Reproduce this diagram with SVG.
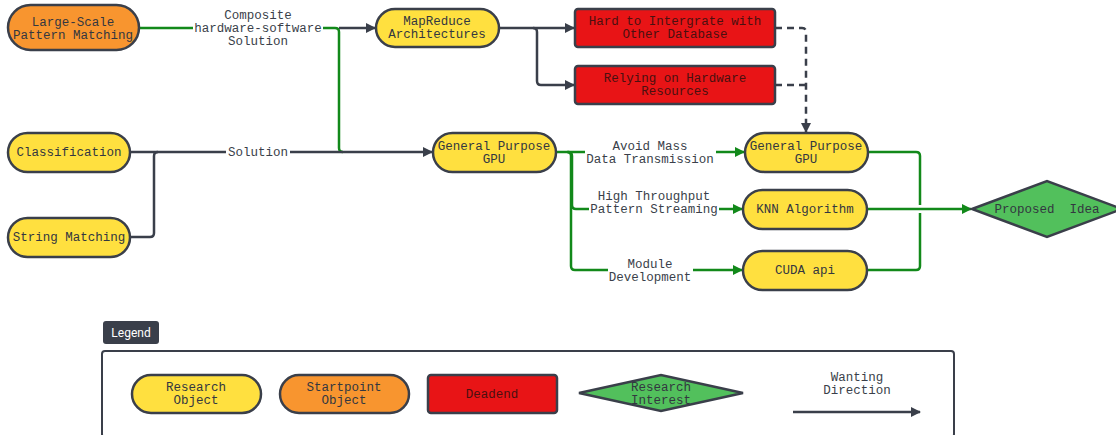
<svg xmlns="http://www.w3.org/2000/svg" width="1116" height="435" viewBox="0 0 1116 435">
  <style>
    text { font-family: "Liberation Mono", "DejaVu Sans Mono", monospace; font-size: 12.5px; fill: #333740; text-anchor: middle; }
    .obj { fill: #FFE03F; stroke: #3A3F4A; stroke-width: 2.5; }
    .start { fill: #F8952F; stroke: #3A3F4A; stroke-width: 2.5; }
    .dead { fill: #E81416; stroke: #3A3F4A; stroke-width: 2.5; }
    .dead-t { fill: #4A1010; }
    .interest { fill: #52C05C; stroke: #3A3F4A; stroke-width: 2.5; }
    .dk { fill: none; stroke: #3A3F4A; stroke-width: 2.5; }
    .gr { fill: none; stroke: #12891A; stroke-width: 2.5; }
    .dash { fill: none; stroke: #3A3F4A; stroke-width: 2.5; stroke-dasharray: 7 5; }
    .lbl { fill: #3A3F4A; }
  </style>
  <defs>
    <marker id="ad" viewBox="0 0 10 10" refX="9" refY="5" markerWidth="10" markerHeight="10" markerUnits="userSpaceOnUse" orient="auto">
      <path d="M0,0 L10,5 L0,10 z" fill="#3A3F4A"/>
    </marker>
    <marker id="ag" viewBox="0 0 10 10" refX="9" refY="5" markerWidth="10" markerHeight="10" markerUnits="userSpaceOnUse" orient="auto">
      <path d="M0,0 L10,5 L0,10 z" fill="#12891A"/>
    </marker>
  </defs>

  <!-- connectors -->
  <g id="connectors">
    <!-- Large-Scale -> MapReduce / GPU -->
    <path class="gr" d="M139,28 H193"/>
    <path class="gr" d="M323,28 H335 Q339,28 339,32 V148 Q339,152 343,152"/>
    <path class="dk" d="M339,28 H375" marker-end="url(#ad)"/>
    <!-- Classification / String Matching -> GPU -->
    <path class="dk" d="M130,152 H226"/>
    <path class="dk" d="M290,152 H432" marker-end="url(#ad)"/>
    <path class="dk" d="M130,237 H150 Q154,237 154,233 V156 Q154,152 158,152"/>
    <!-- MapReduce -> dead ends -->
    <path class="dk" d="M499,28 H574" marker-end="url(#ad)"/>
    <path class="dk" d="M533,28 Q537,28 537,32 V81 Q537,85 541,85 H574" marker-end="url(#ad)"/>
    <!-- dead ends -> GPU (dashed) -->
    <path class="dash" d="M775,28 H802 Q806,28 806,32 V132" marker-end="url(#ad)"/>
    <path class="dash" d="M775,85 H806"/>
    <!-- GPU -> branches -->
    <path class="gr" d="M556,152 H585"/>
    <path class="gr" d="M716,152 H744" marker-end="url(#ag)"/>
    <path class="gr" d="M568,152 Q572,152 572,156 V205 Q572,209 576,209 H589"/>
    <path class="gr" d="M719,209 H742" marker-end="url(#ag)"/>
    <path class="gr" d="M567,152 Q571,152 571,156 V266 Q571,270 575,270 H608"/>
    <path class="gr" d="M693,270 H742" marker-end="url(#ag)"/>
    <!-- branches -> Proposed Idea -->
    <path class="gr" d="M868,152 H916 Q920,152 920,156 V205"/>
    <path class="gr" d="M867,209 H971" marker-end="url(#ag)"/>
    <path class="gr" d="M867,270 H916 Q920,270 920,266 V213"/>
    <!-- connector labels -->
    <text class="lbl" x="258" y="19">Composite</text>
    <text class="lbl" x="258" y="32">hardware-software</text>
    <text class="lbl" x="258" y="45">Solution</text>
    <text class="lbl" x="258" y="156">Solution</text>
    <text class="lbl" x="650" y="150">Avoid Mass</text>
    <text class="lbl" x="650" y="163">Data Transmission</text>
    <text class="lbl" x="654" y="200">High Throughput</text>
    <text class="lbl" x="654" y="213">Pattern Streaming</text>
    <text class="lbl" x="650" y="268">Module</text>
    <text class="lbl" x="650" y="281">Development</text>
  </g>

  <!-- nodes -->
  <g id="large-scale">
    <rect class="start" x="8" y="5" width="131" height="45" rx="22.5"/>
    <text x="73" y="26">Large-Scale</text>
    <text x="73" y="39">Pattern Matching</text>
  </g>
  <g id="classification">
    <rect class="obj" x="8" y="133" width="122" height="39" rx="19.5"/>
    <text x="69" y="156">Classification</text>
  </g>
  <g id="string-matching">
    <rect class="obj" x="8" y="218" width="122" height="39" rx="19.5"/>
    <text x="69" y="241">String Matching</text>
  </g>
  <g id="mapreduce">
    <rect class="obj" x="376" y="9" width="123" height="38" rx="19"/>
    <text x="437" y="25">MapReduce</text>
    <text x="437" y="38">Architectures</text>
  </g>
  <g id="hard-to-integrate">
    <rect class="dead" x="575" y="9" width="200" height="38" rx="3"/>
    <text class="dead-t" x="675" y="25">Hard to Intergrate with</text>
    <text class="dead-t" x="675" y="38">Other Database</text>
  </g>
  <g id="relying-hardware">
    <rect class="dead" x="575" y="66" width="200" height="38" rx="3"/>
    <text class="dead-t" x="675" y="82">Relying on Hardware</text>
    <text class="dead-t" x="675" y="95">Resources</text>
  </g>
  <g id="gpu-1">
    <rect class="obj" x="433" y="133" width="123" height="39" rx="19.5"/>
    <text x="494" y="150">General Purpose</text>
    <text x="494" y="163">GPU</text>
  </g>
  <g id="gpu-2">
    <rect class="obj" x="745" y="133" width="123" height="39" rx="19.5"/>
    <text x="806" y="150">General Purpose</text>
    <text x="806" y="163">GPU</text>
  </g>
  <g id="knn">
    <rect class="obj" x="743" y="190" width="124" height="39" rx="19.5"/>
    <text x="805" y="213">KNN Algorithm</text>
  </g>
  <g id="cuda">
    <rect class="obj" x="743" y="251" width="124" height="39" rx="19.5"/>
    <text x="805" y="274">CUDA api</text>
  </g>
  <g id="proposed-idea">
    <path class="interest" d="M972,209 L1047,181 L1122,209 L1047,237 Z"/>
    <text x="1047" y="213" xml:space="preserve">Proposed  Idea</text>
  </g>

  <!-- legend -->
  <g id="legend">
    <rect x="103" y="321" width="56" height="23" rx="3" fill="#3A3F4A"/>
    <text x="131" y="337" style="fill:#ffffff;font-family:Roboto,'Liberation Sans',Arial,sans-serif;font-size:12px">Legend</text>
    <rect x="102" y="351" width="852" height="86" rx="3" fill="#ffffff" stroke="#3A3F4A" stroke-width="2"/>
    <rect class="obj" x="132" y="375" width="129" height="38" rx="19"/>
    <text x="196" y="391">Research</text>
    <text x="196" y="404">Object</text>
    <rect class="start" x="280" y="375" width="129" height="38" rx="19"/>
    <text x="344" y="391">Startpoint</text>
    <text x="344" y="404">Object</text>
    <rect class="dead" x="428" y="375" width="129" height="38" rx="3"/>
    <text class="dead-t" x="492" y="398">Deadend</text>
    <path class="interest" d="M579,393 L661,375 L743,393 L661,411 Z"/>
    <text x="661" y="391">Research</text>
    <text x="661" y="404">Interest</text>
    <text class="lbl" x="857" y="381">Wanting</text>
    <text class="lbl" x="857" y="394">Direction</text>
    <path class="dk" d="M793,412 H920" marker-end="url(#ad)"/>
  </g>
</svg>
